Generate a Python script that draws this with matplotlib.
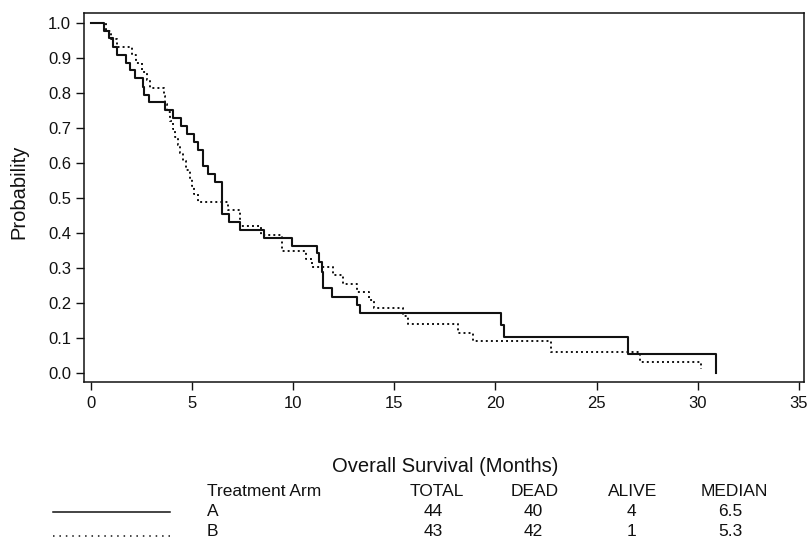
import matplotlib
matplotlib.use("Agg")
import matplotlib.pyplot as plt
from matplotlib.lines import Line2D

plt.rcParams['font.family'] = ['Liberation Sans', 'DejaVu Sans']

# Kaplan-Meier steps (time of drop, survival after drop)
time_a = [0, 0.68, 0.90, 1.08, 1.29, 1.75, 1.95, 2.20, 2.58, 2.64, 2.86, 3.68,
          4.09, 4.44, 4.75, 5.08, 5.30, 5.57, 5.82, 6.15, 6.48, 6.81, 7.39,
          8.57, 9.94, 11.20, 11.29, 11.42, 11.50, 11.92, 13.15, 13.32, 20.27,
          20.43, 26.54, 30.89]
surv_a = [1.0, 0.977, 0.955, 0.932, 0.909, 0.886, 0.864, 0.841, 0.818, 0.795,
          0.773, 0.750, 0.727, 0.705, 0.682, 0.659, 0.636, 0.591, 0.568, 0.545,
          0.455, 0.432, 0.409, 0.386, 0.364, 0.342, 0.317, 0.290, 0.242, 0.218,
          0.195, 0.171, 0.138, 0.104, 0.054, 0.0]

time_b = [0, 0.75, 1.00, 1.30, 2.04, 2.25, 2.55, 2.80, 2.94, 3.60, 3.68, 3.78,
          3.93, 4.05, 4.17, 4.30, 4.42, 4.55, 4.70, 4.92, 5.00, 5.08, 5.30,
          6.76, 7.39, 8.41, 9.44, 10.62, 10.95, 11.95, 12.49, 13.15, 13.73,
          14.00, 15.45, 15.70, 18.17, 18.91, 22.72, 27.15, 30.16]
surv_b = [1.0, 0.977, 0.953, 0.930, 0.907, 0.884, 0.860, 0.837, 0.814, 0.791,
          0.767, 0.744, 0.721, 0.698, 0.674, 0.651, 0.628, 0.605, 0.581, 0.558,
          0.535, 0.512, 0.488, 0.465, 0.419, 0.395, 0.349, 0.326, 0.302, 0.279,
          0.256, 0.233, 0.209, 0.186, 0.163, 0.140, 0.116, 0.093, 0.062, 0.032,
          0.013]

table_cols = ["Treatment Arm", "TOTAL", "DEAD", "ALIVE", "MEDIAN"]
table_rows = [["A", "44", "40", "4", "6.5"],
              ["B", "43", "42", "1", "5.3"]]

W, H = 809, 544


def fx(x):
    return x / W


def fy(y):
    return 1 - y / H


fig = plt.figure(figsize=(W / 100, H / 100), dpi=100)
ax = fig.add_axes([fx(84.3), fy(381.7), (803.5 - 84.3) / W, (381.7 - 12.7) / H])

ax.step(time_a, surv_a, where='post', color='#111111', lw=1.5)
ax.step(time_b, surv_b, where='post', color='#111111', lw=1.4,
        linestyle=(0, (1, 1.6)))

ax.set_xlim(-0.316, 35.22)
ax.set_ylim(-0.024, 1.0285)
ax.set_xticks(range(0, 36, 5))
ax.set_yticks([i / 10 for i in range(11)])
ax.set_yticklabels([f"{i / 10:.1f}" for i in range(11)])
ax.tick_params(direction='out', length=5.5, width=1.0, labelsize=12,
               colors='#111111')
ax.tick_params(axis='x', pad=5)
ax.tick_params(axis='y', pad=4)
for s in ax.spines.values():
    s.set_linewidth(1.1)
    s.set_color('#111111')

fig.text(fx(445), fy(466), "Overall Survival (Months)", ha='center',
         va='center', fontsize=14.5, color='#111111')
fig.text(fx(19), fy(192), "Probability", ha='center', va='center',
         rotation=90, fontsize=14.5, color='#111111')

# summary table under the chart
col_x = [206.7, 437, 535, 633, 734]
head_y = 492
row_y = [512, 532]
for i, c in enumerate(table_cols):
    fig.text(fx(col_x[i]), fy(head_y), c, ha='left' if i == 0 else 'center',
             va='center', fontsize=12.5, color='#111111')
val_x = [206.7, 433, 533.5, 631, 730]
for r, row in enumerate(table_rows):
    for i, v in enumerate(row):
        fig.text(fx(val_x[i]), fy(row_y[r]), v,
                 ha='left' if i == 0 else 'center', va='center',
                 fontsize=12.5, color='#111111')

fig.add_artist(Line2D([fx(52.7), fx(170)], [fy(511.7)] * 2, color='#111111',
                      lw=1.1))
fig.add_artist(Line2D([fx(52.7), fx(170)], [fy(535.5)] * 2, color='#111111',
                      lw=1.1, linestyle=(0, (1, 3.2))))

fig.savefig("out.png", dpi=100)
